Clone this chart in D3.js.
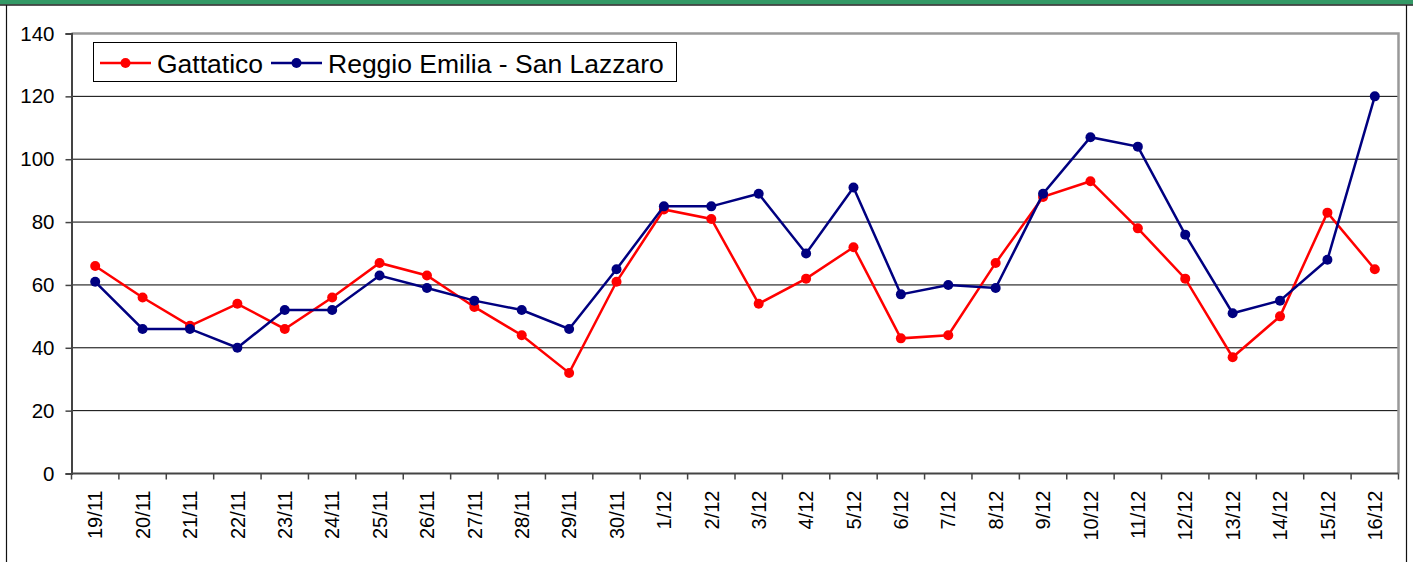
<!DOCTYPE html>
<html>
<head>
<meta charset="utf-8">
<script src="https://cdn.jsdelivr.net/npm/d3@7"></script>
<style>
  body { margin: 0; background: #fff; }
  svg { display: block; font-family: Arial, "Liberation Sans", sans-serif; }
</style>
</head>
<body>
<div id="chart"></div>
<script>
// data
var dates = ["19/11", "20/11", "21/11", "22/11", "23/11", "24/11", "25/11", "26/11", "27/11", "28/11",
  "29/11", "30/11", "1/12", "2/12", "3/12", "4/12", "5/12", "6/12", "7/12", "8/12",
  "9/12", "10/12", "11/12", "12/12", "13/12", "14/12", "15/12", "16/12"];
var gattatico = [66, 56, 47, 54, 46, 56, 67, 63, 53, 44, 32, 61, 84, 81, 54, 62, 72, 43, 44, 67,
  88, 93, 78, 62, 37, 50, 83, 65];
var sanLazzaro = [61, 46, 46, 40, 52, 52, 63, 59, 55, 52, 46, 65, 85, 85, 89, 70, 91, 57, 60, 59,
  89, 107, 104, 76, 51, 55, 68, 120];
var yTicks = [0, 20, 40, 60, 80, 100, 120, 140];
var seriesNames = ["Gattatico", "Reggio Emilia - San Lazzaro"];
var seriesColors = ["#ff0000", "#000080"];

var svgWidth = 1413;
var svgHeight = 562;
var margin = { top: 33.5, right: 14.5, bottom: 88.5, left: 71.5 };
var width = svgWidth - margin.left - margin.right;
var height = svgHeight - margin.top - margin.bottom;

var svg = d3.select("#chart")
  .append("svg")
  .attr("width", svgWidth)
  .attr("height", svgHeight);

// frame around the whole picture
svg.append("rect").attr("x", 0).attr("y", 0).attr("width", svgWidth).attr("height", 4.5).attr("fill", "#339966");
svg.append("line").attr("x1", 0).attr("x2", svgWidth).attr("y1", 5).attr("y2", 5).attr("stroke", "#222").attr("stroke-width", 1.5);
svg.append("line").attr("x1", 6.5).attr("x2", 6.5).attr("y1", 5).attr("y2", svgHeight).attr("stroke", "#111").attr("stroke-width", 1.2);
svg.append("line").attr("x1", 1406.5).attr("x2", 1406.5).attr("y1", 5).attr("y2", svgHeight).attr("stroke", "#111").attr("stroke-width", 1.2);

var chartGroup = svg.append("g")
  .attr("transform", `translate(${margin.left}, ${margin.top})`);

var x = d3.scaleBand().domain(dates).range([0, width]);
var y = d3.scaleLinear().domain([0, 140]).range([height, 0]);

// gridlines
chartGroup.selectAll(".grid")
  .data(yTicks.filter(d => d > 0 && d < 140))
  .enter()
  .append("line")
  .attr("x1", 0).attr("x2", width)
  .attr("y1", d => y(d)).attr("y2", d => y(d))
  .attr("stroke", "#000").attr("stroke-width", 1);

// grey plot border top + right
chartGroup.append("path")
  .attr("d", `M0,${y(140)}H${width}V${height}`)
  .attr("fill", "none").attr("stroke", "#999").attr("stroke-width", 2.5);

// axes
var leftAxis = d3.axisLeft(y).tickValues(yTicks).tickSize(6).tickPadding(11);
var yAxis = chartGroup.append("g").call(leftAxis);
yAxis.select(".domain").attr("stroke", "#444").attr("stroke-width", 2);
yAxis.selectAll(".tick line").attr("stroke", "#444").attr("stroke-width", 1.5);
yAxis.selectAll("text").style("font-size", "20.5px").attr("fill", "#000")
  .style("font-family", "Arial, 'Liberation Sans', sans-serif");

var bottomAxis = d3.axisBottom(x).tickSize(0);
var xAxis = chartGroup.append("g").attr("transform", `translate(0, ${height})`).call(bottomAxis);
xAxis.select(".domain").remove();
xAxis.selectAll("text")
  .style("font-size", "20px")
  .style("font-family", "Arial, 'Liberation Sans', sans-serif")
  .attr("fill", "#000")
  .attr("text-anchor", "end")
  .attr("transform", "rotate(-90)")
  .attr("x", -17)
  .attr("y", 0)
  .attr("dy", "0.36em");

// boundary ticks for the category axis
chartGroup.selectAll(".xtick")
  .data(dates.concat(["end"]))
  .enter()
  .append("line")
  .attr("x1", (d, i) => i * x.bandwidth()).attr("x2", (d, i) => i * x.bandwidth())
  .attr("y1", height).attr("y2", height + 6)
  .attr("stroke", "#444").attr("stroke-width", 1.5);

chartGroup.append("line")
  .attr("x1", 0).attr("x2", width).attr("y1", height).attr("y2", height)
  .attr("stroke", "#444").attr("stroke-width", 2);

// lines and markers
var line = d3.line()
  .x((d, i) => x(dates[i]) + x.bandwidth() / 2)
  .y(d => y(d));

[gattatico, sanLazzaro].forEach(function(series, k) {
  chartGroup.append("path")
    .datum(series)
    .attr("d", line)
    .attr("fill", "none")
    .attr("stroke", seriesColors[k])
    .attr("stroke-width", 2.5);

  chartGroup.selectAll(".m" + k)
    .data(series)
    .enter()
    .append("circle")
    .attr("cx", (d, i) => x(dates[i]) + x.bandwidth() / 2)
    .attr("cy", d => y(d))
    .attr("r", 5)
    .attr("fill", seriesColors[k]);
});

// legend
var legend = svg.append("g");
legend.append("rect")
  .attr("x", 93.5).attr("y", 42.5).attr("width", 583).attr("height", 39)
  .attr("fill", "#fff").attr("stroke", "#000").attr("stroke-width", 1);

var legendX = [100, 271];
seriesNames.forEach(function(name, k) {
  var g = legend.append("g").attr("transform", `translate(${legendX[k]}, 63)`);
  g.append("line").attr("x1", 0).attr("x2", 51).attr("y1", 0).attr("y2", 0)
    .attr("stroke", seriesColors[k]).attr("stroke-width", 2.5);
  g.append("circle").attr("cx", 25.5).attr("cy", 0).attr("r", 5).attr("fill", seriesColors[k]);
  g.append("text").attr("x", 57).attr("y", 0).attr("dy", "0.36em")
    .style("font-size", "26.5px").attr("fill", "#000").text(name);
});
</script>
</body>
</html>
